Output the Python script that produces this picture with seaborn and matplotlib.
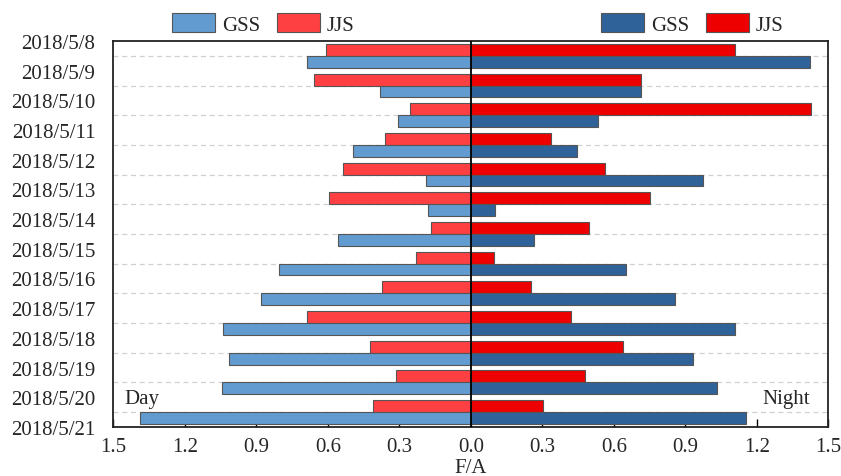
import numpy as np
import pandas as pd
import matplotlib
matplotlib.use("Agg")
import matplotlib.pyplot as plt
from matplotlib.patches import Patch
import seaborn as sns

# ---- data ----
dates = ["2018/5/8", "2018/5/9", "2018/5/10", "2018/5/11", "2018/5/12", "2018/5/13",
         "2018/5/14", "2018/5/15", "2018/5/16", "2018/5/17", "2018/5/18", "2018/5/19",
         "2018/5/20", "2018/5/21"]
series = ["JJS", "GSS"]
day_jjs = [0.606, 0.656, 0.256, 0.360, 0.537, 0.593, 0.169, 0.228, 0.371, 0.687, 0.423, 0.315, 0.409]
day_gss = [0.686, 0.379, 0.304, 0.493, 0.186, 0.179, 0.556, 0.804, 0.879, 1.038, 1.013, 1.042, 1.386]
night_jjs = [1.110, 0.712, 1.429, 0.338, 0.562, 0.752, 0.495, 0.096, 0.253, 0.422, 0.640, 0.478, 0.303]
night_gss = [1.424, 0.712, 0.533, 0.446, 0.975, 0.101, 0.266, 0.650, 0.856, 1.110, 0.930, 1.034, 1.154]
xticks = [-1.5, -1.2, -0.9, -0.6, -0.3, 0.0, 0.3, 0.6, 0.9, 1.2, 1.5]

groups = [f"{a}-{b}" for a, b in zip(dates[:-1], dates[1:])]

day_df = pd.DataFrame({
    "group": groups * 2,
    "series": ["JJS"] * len(groups) + ["GSS"] * len(groups),
    "value": [-v for v in day_jjs] + [-v for v in day_gss],
})
night_df = pd.DataFrame({
    "group": groups * 2,
    "series": ["JJS"] * len(groups) + ["GSS"] * len(groups),
    "value": night_jjs + night_gss,
})

day_colors = {"GSS": "#629bcf", "JJS": "#ff4042"}
night_colors = {"GSS": "#2f6299", "JJS": "#ee0000"}

sns.set_style("white")
plt.rcParams["font.family"] = ["Liberation Serif", "DejaVu Serif"]
plt.rcParams["font.size"] = 15

fig = plt.figure(figsize=(8.41, 4.77), dpi=100)
ax = fig.add_axes([0.1347, 0.103, 0.8503, 0.809])

common = dict(y="group", x="value", hue="series", hue_order=series, order=groups,
              orient="h", errorbar=None, width=0.8, edgecolor="#555555", saturation=1,
              linewidth=0.8, legend=False, ax=ax, zorder=3)
sns.barplot(data=day_df, palette=day_colors, **common)
sns.barplot(data=night_df, palette=night_colors, **common)

n = len(groups)
ax.set_ylim(n - 0.5, -0.5)
ax.set_yticks(np.arange(n + 1) - 0.5)
ax.set_yticklabels(dates)
ax.set_yticks(np.arange(n), minor=True)
ax.grid(False)
ax.grid(True, which="minor", axis="y", linestyle=(0, (4, 3)), color="#d0d0d0", linewidth=0.9, zorder=0)
ax.tick_params(axis="y", which="both", length=0, labelsize=15, pad=13)

ax.set_xlim(-1.5, 1.5)
ax.set_xticks(xticks)
ax.set_xticklabels([f"{abs(t):.1f}" for t in xticks])
ax.tick_params(axis="x", direction="in", length=6, width=1, labelsize=15, pad=7, color="black", bottom=True)
ax.set_xlabel("F/A", fontsize=15, labelpad=2)
ax.set_ylabel("")

ax.axvline(0, color="black", linewidth=1.3, zorder=4)
for s in ax.spines.values():
    s.set_color("#222222")
    s.set_linewidth(1.3)

ax.text(0.016, 0.073, "Day", transform=ax.transAxes, fontsize=15, ha="left", va="center")
ax.text(0.974, 0.073, "Night", transform=ax.transAxes, fontsize=15, ha="right", va="center")

leg_kw = dict(loc="center", ncol=2, frameon=False, fontsize=15, handlelength=2.1,
              handleheight=1.05, handletextpad=0.3, columnspacing=0.8, borderpad=0.2)
h_day = [Patch(facecolor=day_colors[s], edgecolor="#555555", linewidth=0.8) for s in ["GSS", "JJS"]]
h_night = [Patch(facecolor=night_colors[s], edgecolor="#555555", linewidth=0.8) for s in ["GSS", "JJS"]]
fig.legend(h_day, ["GSS", "JJS"], bbox_to_anchor=(263 / 841, 1 - 25 / 477), **leg_kw)
fig.legend(h_night, ["GSS", "JJS"], bbox_to_anchor=(692 / 841, 1 - 25 / 477), **leg_kw)

fig.savefig("out.png", dpi=100)
